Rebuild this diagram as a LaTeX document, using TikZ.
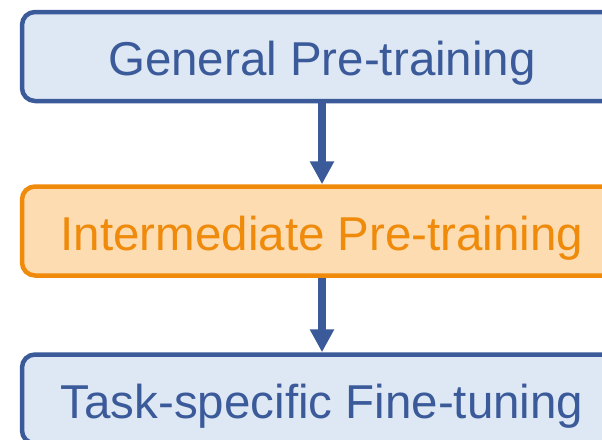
\documentclass[tikz,border=0pt]{standalone}
\usepackage{fontspec}
\setmainfont{Liberation Sans}
\usetikzlibrary{arrows.meta}
\definecolor{bluefill}{HTML}{DEE8F4}
\definecolor{blueline}{HTML}{3B5A9A}
\definecolor{orangefill}{HTML}{FDDCB1}
\definecolor{orangeline}{HTML}{EF8A0A}
\begin{document}
\begin{tikzpicture}[x=1pt,y=-1pt,
  stage/.style={draw, line width=4.5pt, rounded corners=13pt, minimum width=600pt, minimum height=89pt,
    inner sep=0pt, text height=38pt, text depth=0pt, font=\fontsize{47.5}{57}\selectfont},
  bluestage/.style={stage, draw=blueline, fill=bluefill, text=blueline},
  orangestage/.style={stage, draw=orangeline, fill=orangefill, text=orangeline},
  flow/.style={draw=blueline, line width=8pt, -{Triangle[width=23pt,length=23pt]}}]
\useasboundingbox (0,0) rectangle (602,439);
\clip (0,0) rectangle (602,439);
\node[bluestage] (gen) at (322,56.5) {General Pre-training};
\node[orangestage] (inter) at (322,231) {Intermediate Pre-training};
\node[bluestage] (task) at (322,399) {Task-specific Fine-tuning};
\draw[flow] (gen.south) -- (inter.north);
\draw[flow] (inter.south) -- (task.north);
\end{tikzpicture}
\end{document}
